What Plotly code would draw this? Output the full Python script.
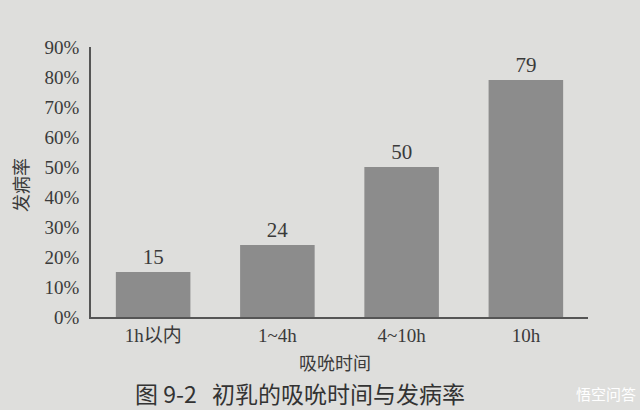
import plotly.graph_objects as go

categories = ["1h以内", "1~4h", "4~10h", "10h"]
rates = [15, 24, 50, 79]
y_ticks = [0, 10, 20, 30, 40, 50, 60, 70, 80, 90]
y_tick_labels = [f"{v}%" for v in y_ticks]

serif = "Liberation Serif, Noto Sans CJK SC, serif"
cjk = "Noto Sans CJK SC, sans-serif"
txt = "#3a3a3a"

fig = go.Figure()
fig.add_trace(go.Bar(
    x=categories,
    y=rates,
    text=[str(v) for v in rates],
    textposition="outside",
    textfont=dict(family=serif, size=21, color=txt),
    marker=dict(color="#8c8c8c", line=dict(width=0)),
    cliponaxis=False,
    hoverinfo="skip",
))

fig.update_layout(
    width=640, height=410,
    margin=dict(l=91, r=52, t=47, b=93, autoexpand=False),
    paper_bgcolor="#dededc",
    plot_bgcolor="#dededc",
    bargap=0.4,
    showlegend=False,
    font=dict(family=serif, color=txt),
    xaxis=dict(
        showline=True, linecolor="#555", linewidth=1.5,
        ticks="", showgrid=False, automargin=False,
        tickfont=dict(family=serif, size=19, color=txt),
    ),
    yaxis=dict(
        range=[0, 90],
        tickvals=y_ticks, ticktext=y_tick_labels,
        showline=True, linecolor="#555", linewidth=1.5,
        ticks="", showgrid=False, zeroline=False, automargin=False,
        tickfont=dict(family=serif, size=19, color=txt),
        ticklabelstandoff=6,
    ),
    annotations=[
        dict(text="发病率", xref="paper", yref="paper", textangle=-90,
             x=-0.143, y=0.489, xanchor="center", yanchor="middle", showarrow=False,
             font=dict(family=cjk, size=18, color=txt)),
        dict(text="吸吮时间", xref="paper", yref="paper",
             x=0.491, y=-0.165, xanchor="center", yanchor="middle", showarrow=False,
             font=dict(family=cjk, size=18, color=txt)),
        dict(text="图 9-2   初乳的吸吮时间与发病率", xref="paper", yref="paper",
             x=0.42, y=-0.283, xanchor="center", yanchor="middle", showarrow=False,
             font=dict(family=cjk, size=23, color="#333")),
        dict(text="悟空问答", xref="paper", yref="paper",
             x=1.1, y=-0.283, xanchor="right", yanchor="middle", showarrow=False,
             font=dict(family=cjk, size=15, color="#ffffff")),
    ],
)

fig.write_html("out.html", config={"displayModeBar": False},
               post_script="document.body.style.margin='0';")
